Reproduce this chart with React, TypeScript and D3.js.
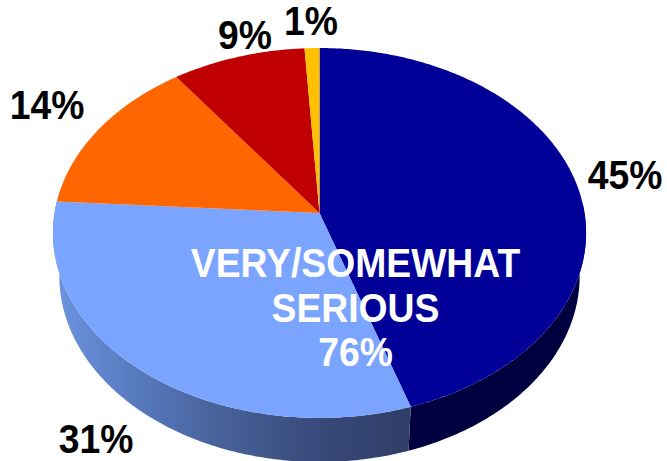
import React from "react";
import * as d3 from "d3";

// Survey shares, clockwise from twelve o'clock.
const categories = ["Very serious", "Somewhat serious", "Not very serious", "Not at all serious", "Don't know"];
const shares = [45, 31, 14, 9, 1];
const shareLabels = ["45%", "31%", "14%", "9%", "1%"];
const faceColors = ["#000099", "#7BA4FF", "#FF6600", "#C00000", "#FFC000"];
const calloutLines = ["VERY/SOMEWHAT", "SERIOUS", "76%"];

const W = 667;
const H = 461;

// Tilted disc: a projective map of the unit circle, so the hub sits above the ellipse centre.
const hubX = 319.5;
const hubY = 213;
const spreadX = 265;
const spreadY = 182.8;
const tilt = 0.108;
const depth = 43;
const baseScaleX = 0.976;
const baseScaleY = 1.005;

// Lettering is a little taller than the font's natural proportions.
const textStretch = 1.09;

type Pt = [number, number];
const project = (theta: number, drop: number, scaleX: number, scaleY: number): Pt => {
  const u = Math.sin(theta);
  const v = -Math.cos(theta);
  const w = 1 - tilt * v;
  return [hubX + (scaleX * spreadX * u) / w, hubY + drop + (scaleY * spreadY * v) / w];
};

const rim = (a0: number, a1: number, drop = 0, scaleX = 1, scaleY = 1): Pt[] => {
  const n = Math.max(2, Math.ceil((a1 - a0) / 0.01));
  return d3.range(n + 1).map((i) => project(a0 + ((a1 - a0) * i) / n, drop, scaleX, scaleY));
};

const line = d3.line<Pt>();
const slices = d3.pie<number>().sort(null).startAngle(0).endAngle(2 * Math.PI)(shares);

// Only the near half of the wall shows, between the rim's left and right extremes.
const wallStart = 1.52;
const wallEnd = 4.78;

// Text anchors for the outside labels, in the same order as shares.
const labelAnchors: Pt[] = [
  [625, 189],
  [96, 452.5],
  [47, 119],
  [245, 48.5],
  [311, 35],
];

const calloutBaselines = [277, 321.5, 365.5];

export default function App() {
  return (
    <svg
      width={W}
      height={H}
      viewBox={`0 0 ${W} ${H}`}
      style={{ position: "absolute", left: 0, top: 0, display: "block", background: "#fff" }}
      fontFamily="'Liberation Sans', Arial, sans-serif"
      fontWeight={700}
    >
      <defs>
        <linearGradient id="wall-light" gradientUnits="userSpaceOnUse" x1={55} x2={410} y1={0} y2={0}>
          <stop offset="0" stopColor="#6C93E0" />
          <stop offset="0.3" stopColor="#5272B4" />
          <stop offset="0.5" stopColor="#455F94" />
          <stop offset="0.75" stopColor="#38497A" />
          <stop offset="1" stopColor="#2F3E66" />
        </linearGradient>
      </defs>

      {slices.map((s, i) => {
        const a0 = Math.max(s.startAngle, wallStart);
        const a1 = Math.min(s.endAngle, wallEnd);
        if (a1 <= a0) return null;
        const outline = [...rim(a0, a1), ...rim(a0, a1, depth, baseScaleX, baseScaleY).reverse()];
        return (
          <path
            key={categories[i] + "-wall"}
            d={line(outline) + "Z"}
            fill={i === 0 ? "#000040" : "url(#wall-light)"}
          />
        );
      })}

      {slices.map((s, i) => (
        <path
          key={categories[i]}
          d={line([[hubX, hubY], ...rim(s.startAngle, s.endAngle)]) + "Z"}
          fill={faceColors[i]}
        />
      ))}

      <g fill="#fff" fontSize={37.3} textAnchor="middle">
        {calloutLines.map((t, i) => (
          <text key={t} transform={`translate(355.5,${calloutBaselines[i]}) scale(1,${textStretch})`}>
            {t}
          </text>
        ))}
      </g>

      <g fill="#000" fontSize={37.3} textAnchor="middle">
        {shareLabels.map((t, i) => (
          <text key={t} transform={`translate(${labelAnchors[i][0]},${labelAnchors[i][1]}) scale(1,${textStretch})`}>
            {t}
          </text>
        ))}
      </g>
    </svg>
  );
}
